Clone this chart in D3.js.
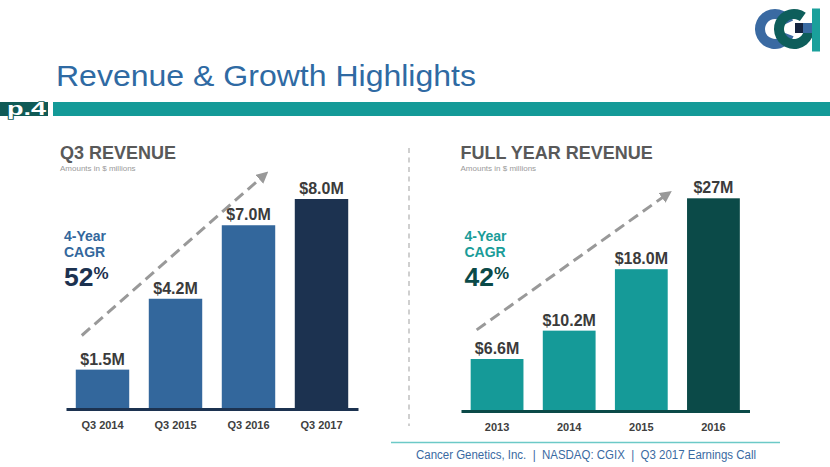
<!DOCTYPE html>
<html><head><meta charset="utf-8">
<script src="https://cdn.jsdelivr.net/npm/d3@7"></script>
<style>body{margin:0;background:#fff}svg{display:block}text{font-family:"Liberation Sans",Arial,sans-serif}</style>
</head><body>
<svg id="c" width="830" height="467"></svg>
<script>
// ---- data ----
const q3Categories = ["Q3 2014","Q3 2015","Q3 2016","Q3 2017"];
const q3Values = [1.5, 4.2, 7.0, 8.0];
const q3Labels = ["$1.5M","$4.2M","$7.0M","$8.0M"];
const fyCategories = ["2013","2014","2015","2016"];
const fyValues = [6.6, 10.2, 18.0, 27];
const fyLabels = ["$6.6M","$10.2M","$18.0M","$27M"];
const q3Cagr = "52", fyCagr = "42";

const svg = d3.select("#c");

// ---- header ----
// logo
const logo = svg.append("g");
const arcC = d3.arc().innerRadius(10).outerRadius(20).startAngle(Math.PI*0.62).endAngle(Math.PI*2 + Math.PI*0.36);
logo.append("path").attr("d", arcC()).attr("transform","translate(775,29)").attr("fill","#3a6aa2");
const arcG = d3.arc().innerRadius(10).outerRadius(20).startAngle(Math.PI/2).endAngle(Math.PI*2 + Math.PI*0.2);
logo.append("path").attr("d", arcG()).attr("transform","translate(794,29)").attr("fill","#0e5e5b");
logo.append("rect").attr("x",795).attr("y",23).attr("width",8).attr("height",10).attr("fill","#14233f");
logo.append("rect").attr("x",803).attr("y",23).attr("width",9).attr("height",10).attr("fill","#3a6aa2");
logo.append("rect").attr("x",812).attr("y",8.5).attr("width",8).attr("height",43).attr("fill","#1aa09b");

svg.append("text").attr("x",56).attr("y",86).attr("font-size",30).attr("fill","#2f6aa3")
  .attr("textLength",420).attr("lengthAdjust","spacingAndGlyphs").text("Revenue & Growth Highlights");
svg.append("rect").attr("x",0).attr("y",102).attr("width",48).attr("height",14).attr("fill","#0f5a56");
svg.append("rect").attr("x",53).attr("y",102).attr("width",777).attr("height",14).attr("fill","#149a98");
svg.append("text").attr("x",7).attr("y",114.5).attr("font-size",19).attr("font-weight","bold")
  .attr("textLength",39).attr("lengthAdjust","spacingAndGlyphs")
  .attr("fill","#fff").attr("stroke","#0f5a56").attr("stroke-width",1.6).attr("paint-order","stroke").text("p.4");

// separator
svg.append("line").attr("x1",409).attr("x2",409).attr("y1",148).attr("y2",426)
  .attr("stroke","#cfcfcf").attr("stroke-width",2).attr("stroke-dasharray","5,4.5");

// footer
svg.append("line").attr("x1",391).attr("x2",780).attr("y1",442.5).attr("y2",442.5).attr("stroke","#6cc9c7").attr("stroke-width",1.5);
svg.append("text").attr("x",416).attr("y",458.5).attr("font-size",12.5).attr("fill","#3a6aa2")
  .style("white-space","pre").attr("xml:space","preserve")
  .attr("textLength",340).attr("lengthAdjust","spacingAndGlyphs")
  .text("Cancer Genetics, Inc.  |  NASDAQ: CGIX  |  Q3 2017 Earnings Call");

// defs arrowhead
const defs = svg.append("defs");
defs.append("marker").attr("id","ah").attr("viewBox","0 0 10 10").attr("refX",5).attr("refY",5)
  .attr("markerWidth",4).attr("markerHeight",4).attr("orient","auto")
  .append("path").attr("d","M0,0L10,5L0,10z").attr("fill","#999");

function panel(o){
  const g = svg.append("g");
  const x = d3.scaleBand().domain(o.cats).range(o.xr).paddingInner(0.268).paddingOuter(0.134);
  const y = d3.scaleLinear().domain([0, o.ymax]).range([o.base, o.top]);
  g.append("text").attr("x",o.tx).attr("y",158.5).attr("font-size",18).attr("font-weight","bold").attr("fill","#595959").text(o.title);
  g.append("text").attr("x",o.tx).attr("y",170.5).attr("font-size",8).attr("fill","#9a9a9a").text("Amounts in $ millions");
  g.append("text").attr("x",o.tx+4).attr("y",241).attr("font-size",14).attr("font-weight","bold").attr("fill",o.cagrCol).text("4-Year");
  g.append("text").attr("x",o.tx+4).attr("y",257).attr("font-size",14).attr("font-weight","bold").attr("fill",o.cagrCol).text("CAGR");
  const t = g.append("text").attr("x",o.tx+4).attr("y",286).attr("font-size",26.5).attr("font-weight","bold").attr("fill",o.dark);
  t.append("tspan").text(o.cagr);
  t.append("tspan").attr("font-size",17).attr("dy",-7).text("%");
  // arrow
  const sx = x(o.cats[0]) + o.ax0, sy = y(o.ay0), ex = x(o.cats[2]) + o.ax1, ey = y(o.ay1);
  g.append("line").attr("x1",sx).attr("y1",sy).attr("x2",ex).attr("y2",ey)
    .attr("stroke","#999").attr("stroke-width",3).attr("stroke-dasharray","11,6").attr("marker-end","url(#ah)");
  g.selectAll(".bar").data(o.vals).join("rect")
    .attr("x",(d,i)=>x(o.cats[i])).attr("width",x.bandwidth())
    .attr("y",d=>y(d)).attr("height",d=>o.base-y(d))
    .attr("fill",(d,i)=>i===3?o.dark:o.col);
  g.selectAll(".vl").data(o.vals).join("text")
    .attr("x",(d,i)=>x(o.cats[i])+x.bandwidth()/2).attr("y",d=>y(d)-5)
    .attr("text-anchor","middle").attr("font-size",16).attr("font-weight","bold").attr("fill","#3b3b3b")
    .text((d,i)=>o.labels[i]);
  // axis
  const ax = g.append("g").attr("transform",`translate(0,${o.base})`)
    .call(d3.axisBottom(x).tickSize(0).tickPadding(12));
  ax.select(".domain").attr("stroke",o.dark).attr("stroke-width",3);
  ax.selectAll("text").attr("font-size",11).attr("font-weight","bold").attr("fill","#404040")
    .attr("font-family","'Liberation Sans',Arial,sans-serif");
}

panel({cats:q3Categories, vals:q3Values, labels:q3Labels, xr:[66,358], base:409, top:199, ymax:8,
  title:"Q3 REVENUE", tx:60, col:"#33679c", dark:"#1c3250", cagrCol:"#33679c", cagr:q3Cagr,
  ax0:6, ay0:2.8, ax1:42, ay1:8.9});
panel({cats:fyCategories, vals:fyValues, labels:fyLabels, xr:[461,749.5], base:411, top:198.3, ymax:27,
  title:"FULL YEAR REVENUE", tx:460.5, col:"#159a98", dark:"#0b4a48", cagrCol:"#1a9c99", cagr:fyCagr,
  ax0:6, ay0:10.3, ax1:52, ay1:27.5});
</script>
</body></html>
